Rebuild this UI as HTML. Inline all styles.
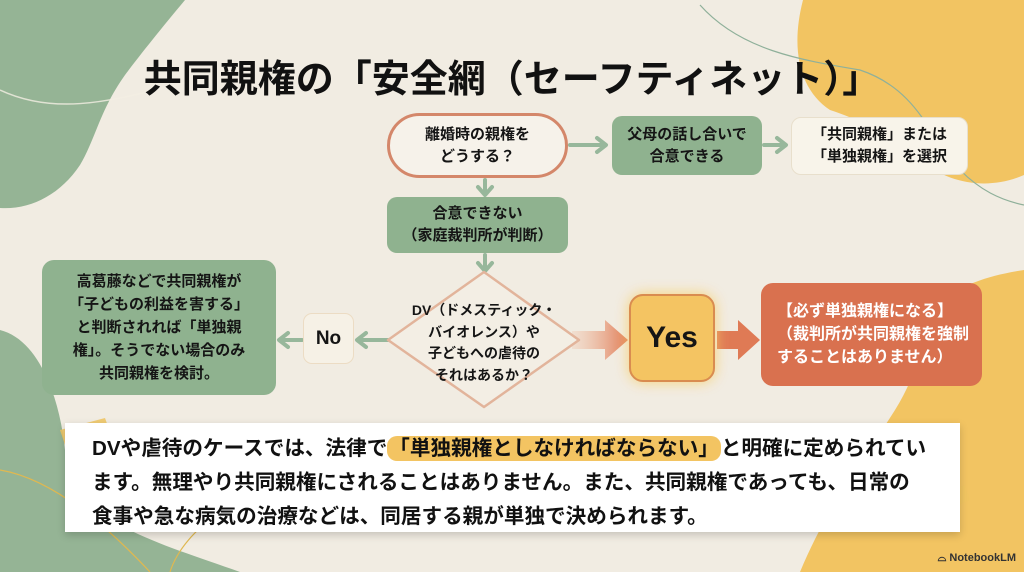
<!DOCTYPE html>
<html><head><meta charset="utf-8"><style>
*{margin:0;padding:0;box-sizing:border-box}
body{width:1024px;height:572px;overflow:hidden;background:#f1ece2;position:relative;font-family:"Liberation Sans","Noto Sans CJK JP",sans-serif;font-weight:bold;color:#151515}
.a{position:absolute;display:flex;align-items:center;justify-content:center;text-align:center}
</style></head><body>
<svg width="1024" height="572" style="position:absolute;left:0;top:0">
<path d="M0,0 L185,0 C160,30 140,55 125,75 C100,110 95,140 80,165 C60,195 30,210 0,208 Z" fill="#95b495"/>
<path d="M0,2 C60,30 120,10 185,-5" stroke="#f4efe4" stroke-width="1.5" fill="none" transform="translate(0,88)" opacity="0.8"/>
<path d="M0,330 C40,340 60,400 65,450 C70,520 150,540 240,572 L0,572 Z" fill="#95b495"/>
<path d="M0,470 C60,480 120,540 150,572" stroke="#e0b850" stroke-width="1.2" fill="none"/>
<path d="M170,572 C180,540 210,520 230,500" stroke="#e0b850" stroke-width="1.2" fill="none"/>
<path d="M803,0 L1024,0 L1024,175 C990,190 950,185 920,160 C880,130 860,120 830,110 C800,90 790,50 803,0 Z" fill="#f2c462"/>
<path d="M1024,270 C990,275 960,285 945,300 C925,330 920,370 895,410 C870,450 830,500 800,572 L1024,572 Z" fill="#f2c462"/>
<path d="M700,5 C740,50 800,60 860,70 C920,90 930,140 960,170 C980,190 1000,200 1024,205" stroke="#8fb09a" stroke-width="1.2" fill="none"/>
<g stroke="#97b79b" stroke-width="4" fill="none" stroke-linecap="round" stroke-linejoin="round">
<path d="M570,145 L605,145 M597,138 L606,145 L597,152"/>
<path d="M764,145 L785,145 M777,138 L786,145 L777,152"/>
<path d="M485,180 L485,194 M478,187 L485,195 L492,187"/>
<path d="M485,255 L485,270 M478,263 L485,271 L492,263"/>
<path d="M388,340 L358,340 M366,333 L357,340 L366,347"/>
<path d="M302,340 L280,340 M288,333 L279,340 L288,347"/>
</g>
<defs><linearGradient id="g1" x1="0" x2="1"><stop offset="0" stop-color="#f0c2a8" stop-opacity="0.3"/><stop offset="1" stop-color="#e07a55"/></linearGradient>
<filter id="bl" x="-50%" y="-50%" width="200%" height="200%"><feGaussianBlur stdDeviation="7"/></filter></defs>
<polygon points="572,331 605,331 605,320 628,340 605,360 605,349 572,349" fill="url(#g1)"/>
<polygon points="717,331 738,331 738,320 760,340 738,360 738,349 717,349" fill="#df7a55"/>
<polygon points="484,272 579,340 484,407 388,340" fill="#f3eee4" stroke="#e2b49b" stroke-width="2.5" stroke-linejoin="round"/>
<rect x="629" y="294" width="86" height="88" rx="14" fill="#f7cf6a" filter="url(#bl)" opacity="0.9"/>
<polygon points="60,430 105,418 110,432 66,448" fill="#f0c660" opacity="0.85"/>
<polygon points="905,510 965,485 970,500 912,525" fill="#f0c660" opacity="0.6"/>
</svg>
<div class="a" style="left:0;width:1024px;top:52px;height:46px;font-size:38px;color:#111">共同親権の「安全網（セーフティネット）」</div>
<div class="a" style="left:387px;top:113px;width:181px;height:65px;border:3px solid #d4876a;border-radius:33px;background:#f6f2ea;font-size:15px;line-height:22px">離婚時の親権を<br>どうする？</div>
<div class="a" style="left:612px;top:116px;width:150px;height:59px;border-radius:10px;background:#8fb28f;font-size:15px;line-height:22px">父母の話し合いで<br>合意できる</div>
<div class="a" style="left:791px;top:117px;width:177px;height:58px;border-radius:10px;background:#f8f4ea;border:1px solid #e8dfcc;font-size:15px;line-height:22px">「共同親権」または<br>「単独親権」を選択</div>
<div class="a" style="left:387px;top:197px;width:181px;height:56px;border-radius:10px;background:#8fb28f;font-size:15px;line-height:22px">合意できない<br>（家庭裁判所が判断）</div>
<div class="a" style="left:400px;top:300px;width:168px;height:86px;font-size:14px;line-height:21.5px">DV（ドメスティック・<br>バイオレンス）や<br>子どもへの虐待の<br>それはあるか？</div>
<div class="a" style="left:303px;top:313px;width:51px;height:51px;border-radius:9px;background:#f6f1e6;border:1px solid #ecdcc4;font-size:19px">No</div>
<div class="a" style="left:42px;top:260px;width:234px;height:135px;border-radius:12px;background:#8fb28f;font-size:15px;line-height:23px">高葛藤などで共同親権が<br>「子どもの利益を害する」<br>と判断されれば「単独親<br>権」。そうでない場合のみ<br>共同親権を検討。</div>
<div class="a" style="left:629px;top:294px;width:86px;height:88px;border-radius:14px;background:#f4c462;border:2.5px solid #d98c50;font-size:30px">Yes</div>
<div class="a" style="left:761px;top:283px;width:221px;height:103px;border-radius:12px;background:#d9714f;color:#fff;font-size:16px;line-height:23px;text-align:left;justify-content:flex-start;padding-left:16px">【必ず単独親権になる】<br>（裁判所が共同親権を強制<br>することはありません）</div>
<div style="position:absolute;left:65px;top:423px;width:895px;height:109px;background:#fff;box-shadow:0 3px 8px rgba(0,0,0,0.18);padding:9px 0 0 27px;font-size:20.6px;line-height:34px;color:#111;white-space:nowrap">DVや虐待のケースでは、法律で<span style="background:#f3c462;border-radius:10px;padding:1px 2px">「単独親権としなければならない」</span>と明確に定められてい<br>ます。無理やり共同親権にされることはありません。また、共同親権であっても、日常の<br>食事や急な病気の治療などは、同居する親が単独で決められます。</div>
<div style="position:absolute;right:8px;top:552px;font-size:11px;color:#333">⌓ NotebookLM</div>
</body></html>
